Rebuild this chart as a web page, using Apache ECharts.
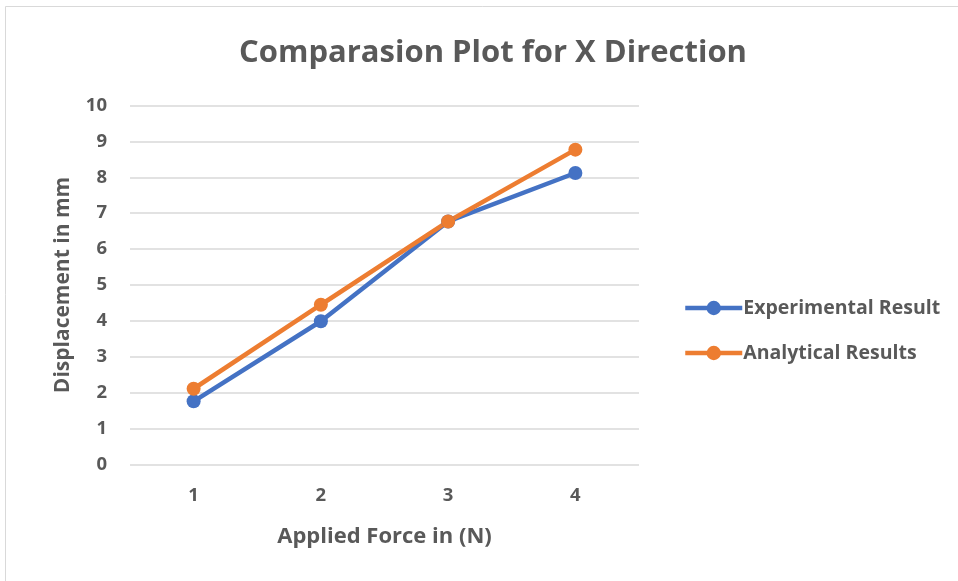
<!DOCTYPE html>
<html><head><meta charset="utf-8">
<script src="https://cdn.jsdelivr.net/npm/echarts@6/dist/echarts.min.js"></script>
<style>html,body{margin:0;padding:0;background:#fff}#c{width:958px;height:581px}</style>
</head><body><div id="c"></div>
<script>
const categories = ['1','2','3','4'];
const experimental = [1.76, 3.99, 6.77, 8.12];
const analytical = [2.11, 4.45, 6.77, 8.77];
const seriesNames = ['Experimental Result','Analytical Results'];
const FONT = '"Open Sans"';
const TXT = '#595959';
const chart = echarts.init(document.getElementById('c'));
chart.setOption({
  animation:false,
  backgroundColor:'#fff',
  graphic:[{type:'rect',shape:{x:5.5,y:6.5,width:1000,height:1000},style:{fill:'none',stroke:'#d9d9d9',lineWidth:1}}],
  title:{text:'Comparasion Plot for X Direction',left:488,textAlign:'center',top:33,
    textStyle:{fontFamily:FONT,fontWeight:'bold',fontSize:31,color:TXT}},
  grid:{left:130,right:319,top:105.5,bottom:116.5},
  legend:{orient:'vertical',left:678,top:293,itemGap:25,itemWidth:57,itemHeight:18,
    lineStyle:{width:4.5},
    textStyle:{fontFamily:FONT,fontWeight:'bold',fontSize:19.5,color:TXT,padding:[0,0,0,-4]},
    data:seriesNames},
  xAxis:{type:'category',data:categories,
    axisLine:{show:false},axisTick:{show:false},
    axisLabel:{fontFamily:FONT,fontWeight:'bold',fontSize:18.5,color:TXT,margin:22},
    name:'Applied Force in (N)',nameLocation:'middle',nameGap:61,
    nameTextStyle:{fontFamily:FONT,fontWeight:'bold',fontSize:22,color:TXT}},
  yAxis:{type:'value',min:0,max:10,interval:1,
    axisLine:{show:false},axisTick:{show:false},
    splitLine:{lineStyle:{color:'#d9d9d9',width:1.5}},
    axisLabel:{fontFamily:FONT,fontWeight:'bold',fontSize:18.5,color:TXT,margin:23},
    name:'Displacement in mm',nameLocation:'middle',nameGap:56,
    nameTextStyle:{fontFamily:FONT,fontWeight:'bold',fontSize:21,color:TXT}},
  series:[
    {name:seriesNames[0],type:'line',data:experimental,symbol:'circle',symbolSize:14,
      lineStyle:{width:4.5,color:'#4472C4'},itemStyle:{color:'#4472C4'}},
    {name:seriesNames[1],type:'line',data:analytical,symbol:'circle',symbolSize:14,
      lineStyle:{width:4.5,color:'#ED7D31'},itemStyle:{color:'#ED7D31'}}
  ]
});
</script></body></html>
